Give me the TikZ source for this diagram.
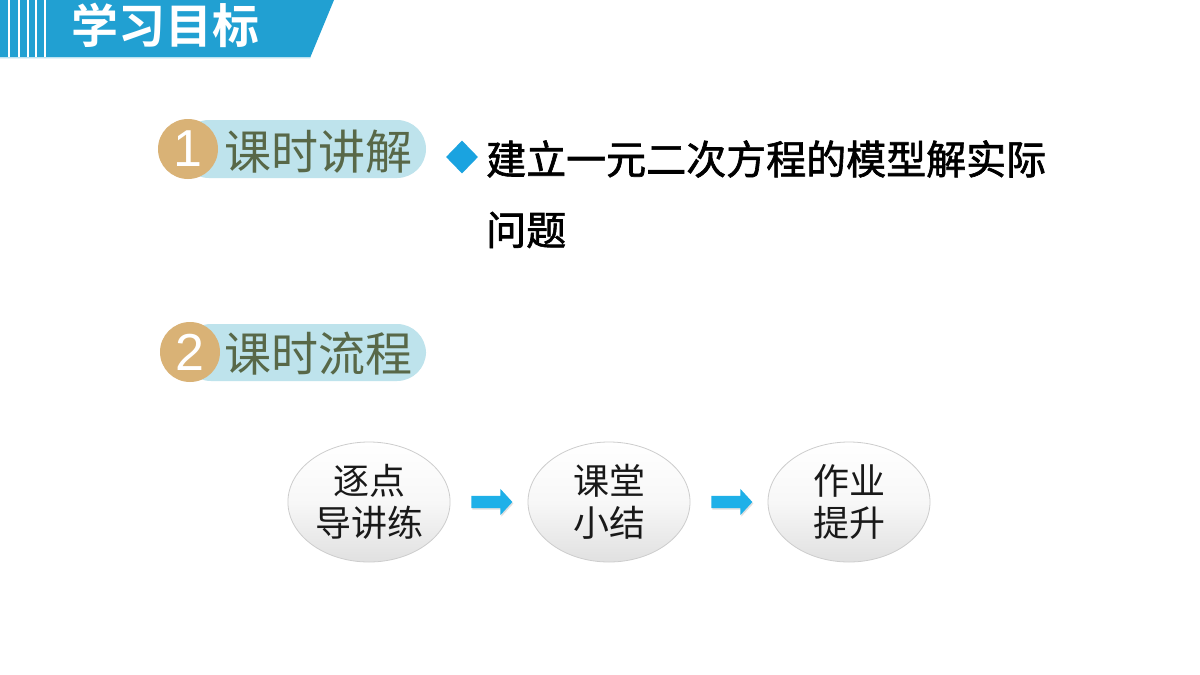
\documentclass[tikz,border=0pt]{standalone}
\usepackage{fontspec}
\setmainfont{Noto Sans CJK SC}
\newfontfamily\cjk{Noto Sans CJK SC}
\newfontfamily\cjkb{Noto Sans CJK SC Bold}
\newfontfamily\cjkm[FakeBold=1.6]{Noto Sans CJK SC}
\newfontfamily\numfont{Liberation Sans}
\usetikzlibrary{shapes.geometric,shapes.arrows,shadows,calc}
\definecolor{hdrblue}{RGB}{33,160,210}
\definecolor{tan}{RGB}{217,178,118}
\definecolor{pill}{RGB}{190,227,236}
\definecolor{olive}{RGB}{88,104,72}
\definecolor{bullet}{RGB}{26,163,224}
\definecolor{arrowblue}{RGB}{30,176,232}
\definecolor{ellborder}{RGB}{205,205,205}
\tikzset{
  pillbox/.style={fill=pill, rounded corners=29pt, draw=none},
  numcircle/.style={circle, fill=tan, minimum size=60pt, inner sep=0pt, text=white, font=\numfont\fontsize{52}{52}\selectfont},
  badgetext/.style={text=olive, font=\cjk\fontsize{47}{47}\selectfont, anchor=west, inner sep=0pt},
  bodytext/.style={text=black, font=\cjkm\fontsize{40}{40}\selectfont, anchor=west, inner sep=0pt},
  stagebox/.style={ellipse, minimum width=162pt, minimum height=120pt, draw=ellborder, line width=0.8pt,
    top color=white, bottom color=black!12, middle color=black!3, align=center,
    font=\cjk\fontsize{36}{42}\selectfont, text=black!90},
  flowarrow/.style={single arrow, fill=arrowblue, minimum height=41pt, inner xsep=0pt, inner ysep=6pt,
    single arrow head extend=7pt, single arrow tip angle=95, draw=none,
    drop shadow={opacity=0.25, shadow xshift=1pt, shadow yshift=-1.5pt}},
  stripe/.style={white, line width=1.6pt}
}
\begin{document}
\begin{tikzpicture}[x=1pt,y=-1pt]
\useasboundingbox (0,0) rectangle (1200,675);
\fill[white] (0,0) rectangle (1200,675);
% header
\fill[hdrblue] (0,0) -- (334,0) -- (310,58) -- (0,58) -- cycle;
\draw[white!70!hdrblue, line width=1pt] (0,57.5) -- (310,57.5);
\foreach \x in {9,19,28,36,45} \draw[stripe] (\x,0) -- (\x,57);
\node[text=white, font=\cjkb\fontsize{47}{47}\selectfont, anchor=center] (title) at (165,25) {学习目标};
% badge 1
\fill[pillbox] (180,120) rectangle (426,178);
\node[numcircle] (n1) at (188,149) {1};
\node[badgetext] (b1) at (224,152) {课时讲解};
% badge 2
\fill[pillbox] (182,324) rectangle (426,381);
\node[numcircle] (n2) at (190,352) {2};
\node[badgetext] (b2) at (224,354) {课时流程};
% bullet
\node[diamond, fill=bullet, minimum width=32pt, minimum height=33pt, inner sep=0pt] (dia) at (462,157) {};
\node[bodytext] (l1) at (486,159) {建立一元二次方程的模型解实际};
\node[bodytext] (l2) at (486,230) {问题};
% flow
\node[stagebox] (s1) at (369,502) {逐点\\导讲练};
\node[stagebox] (s2) at (609,502) {课堂\\小结};
\node[stagebox] (s3) at (849,502) {作业\\提升};
\node[flowarrow] (a1) at ($ (s1.east)!0.5!(s2.west) $) {};
\node[flowarrow] (a2) at ($ (s2.east)!0.5!(s3.west) $) {};
\end{tikzpicture}
\end{document}
